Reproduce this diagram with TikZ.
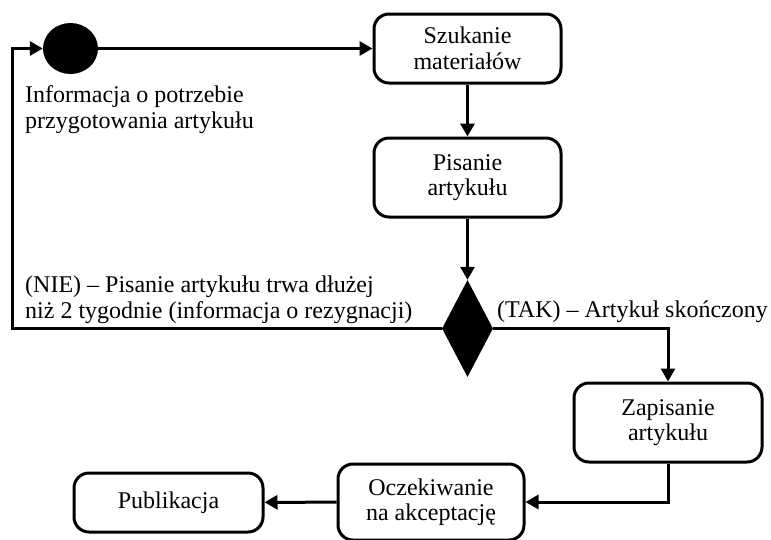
\documentclass[tikz,border=0pt]{standalone}
\usepackage{fontspec}
\setmainfont{Liberation Serif}
\usetikzlibrary{shapes.geometric,arrows.meta}
\begin{document}
\begin{tikzpicture}[x=1pt,y=-1pt,
  font=\fontsize{24}{25.5}\selectfont,
  box/.style={draw,line width=3pt,rounded corners=15pt,align=center,inner sep=0pt},
  arr/.style={line width=3pt,-{Triangle[length=13pt,width=14pt]}},
  lbl/.style={align=left,inner sep=0pt}]
\useasboundingbox (0,0) rectangle (771,539);
\node[ellipse,fill=black,minimum width=55pt,minimum height=51pt,inner sep=0pt] (circ) at (70.5,48.5) {};
\node[box,minimum width=187pt,minimum height=69pt] (szuk) at (467.5,48.5) {Szukanie\\materiałów};
\node[box,minimum width=187pt,minimum height=79pt] (pis) at (467.5,177.5) {Pisanie\\artykułu};
\node[diamond,fill=black,minimum width=51pt,minimum height=97pt,inner sep=0pt] (dia) at (467.5,328.5) {};
\node[box,minimum width=188pt,minimum height=79pt] (zap) at (668,422.5) {Zapisanie\\artykułu};
\node[box,minimum width=186pt,minimum height=76pt] (ocz) at (431,502) {Oczekiwanie\\na akceptację};
\node[box,minimum width=189pt,minimum height=59pt] (pub) at (168.5,502.5) {Publikacja};
\node[lbl,anchor=base west] (info) at (25,128) {Informacja o potrzebie\\przygotowania artykułu};
\node[lbl,anchor=base west] (nie) at (25,318) {(NIE) – Pisanie artykułu trwa dłużej\\niż 2 tygodnie (informacja o rezygnacji)};
\node[lbl,anchor=base west] (tak) at (497,317) {(TAK) – Artykuł skończony};
\coordinate (lp) at (12,328.5);
\draw[arr] (circ) -- (szuk);
\draw[arr] (szuk) -- (pis);
\draw[arr] (pis.south) -- (dia.north);
\draw[arr] (dia.east) -| (zap.north);
\draw[arr] (zap.south) |- (ocz.east);
\draw[arr] (ocz) -- (pub);
\draw[arr] (dia.west) -- (lp) |- (circ.west);
\end{tikzpicture}
\end{document}
